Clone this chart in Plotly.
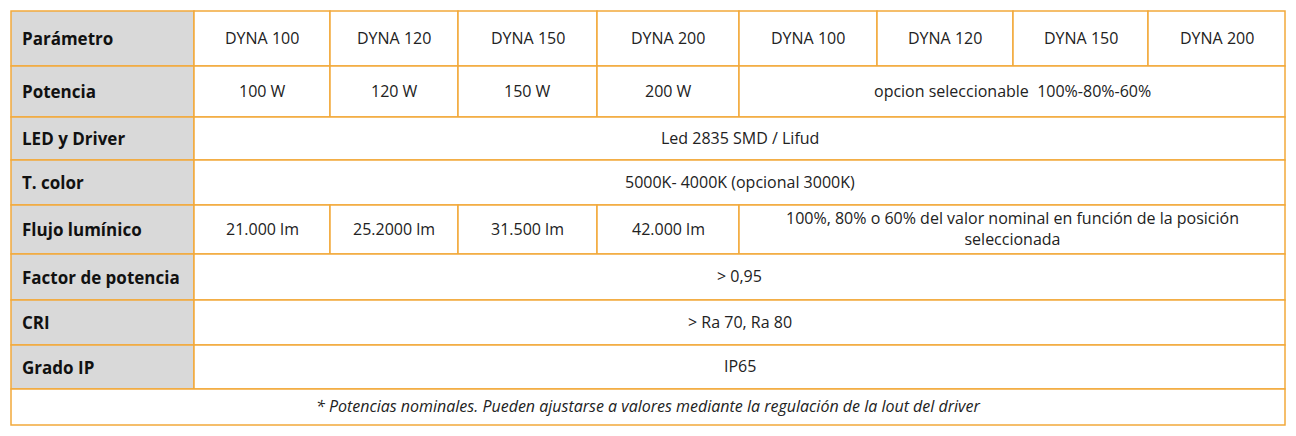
import plotly.graph_objects as go

params = ["Parámetro", "Potencia", "LED y Driver", "T. color", "Flujo lumínico",
          "Factor de potencia", "CRI", "Grado IP"]
models = ["DYNA 100", "DYNA 120", "DYNA 150", "DYNA 200", "DYNA 100", "DYNA 120", "DYNA 150", "DYNA 200"]
potencia = ["100 W", "120 W", "150 W", "200 W"]
potencia_opt = "opcion seleccionable  100%-80%-60%"
led = "Led 2835 SMD / Lifud"
tcolor = "5000K- 4000K (opcional 3000K)"
flujo = ["21.000 lm", "25.2000 lm", "31.500 lm", "42.000 lm"]
flujo_opt = "100%, 80% o 60% del valor nominal en función de la posición<br>seleccionada"
fp = "> 0,95"
cri = "> Ra 70, Ra 80"
ip = "IP65"
nota = "* Potencias nominales. Pueden ajustarse a valores mediante la regulación de la lout del driver"

# geometry (pixels)
xe = [11, 194, 330, 458, 597, 739, 877, 1013, 1148, 1285]
ye = [11, 66, 117, 160, 205, 254, 300, 345, 389, 425]
ORANGE = "#F2A93B"
GRAY = "#D9D9D9"

cells = []  # (row, c0, c1, text, bold, italic, fill)
for r, p in enumerate(params):
    cells.append((r, 0, 1, p, True, False, GRAY))
for i, m in enumerate(models):
    cells.append((0, i + 1, i + 2, m, False, False, "white"))
for i, v in enumerate(potencia):
    cells.append((1, i + 1, i + 2, v, False, False, "white"))
cells.append((1, 5, 9, potencia_opt, False, False, "white"))
cells.append((2, 1, 9, led, False, False, "white"))
cells.append((3, 1, 9, tcolor, False, False, "white"))
for i, v in enumerate(flujo):
    cells.append((4, i + 1, i + 2, v, False, False, "white"))
cells.append((4, 5, 9, flujo_opt, False, False, "white"))
cells.append((5, 1, 9, fp, False, False, "white"))
cells.append((6, 1, 9, cri, False, False, "white"))
cells.append((7, 1, 9, ip, False, False, "white"))
cells.append((8, 0, 9, nota, False, True, "white"))

fig = go.Figure()
shapes, annots = [], []
for r, c0, c1, t, b, it, fill in cells:
    x0, x1, y0, y1 = xe[c0], xe[c1], ye[r], ye[r + 1]
    shapes.append(dict(type="rect", x0=x0, x1=x1, y0=y0, y1=y1, xref="x", yref="y",
                       fillcolor=fill, line=dict(color=ORANGE, width=1.5), layer="below"))
    txt = t
    if b:
        txt = "<b>" + t + "</b>"
    if it:
        txt = "<i>" + t + "</i>"
    if c0 == 0 and c1 == 1:
        annots.append(dict(x=x0 + 9, y=(y0 + y1) / 2, text=txt, showarrow=False, xanchor="left",
                           font=dict(size=17, color="#111"), xref="x", yref="y"))
    else:
        annots.append(dict(x=(x0 + x1) / 2, y=(y0 + y1) / 2 - 1, text=txt, showarrow=False,
                           font=dict(size=16, color="#222"), xref="x", yref="y"))

fig.update_layout(width=1280, height=420, margin=dict(l=0, r=0, t=0, b=0),
                  paper_bgcolor="white", plot_bgcolor="white",
                  font=dict(family="Open Sans"),
                  shapes=shapes, annotations=annots,
                  xaxis=dict(range=[8, 1288], visible=False, fixedrange=True),
                  yaxis=dict(range=[428, 8], visible=False, fixedrange=True))
fig.write_html("out.html")
